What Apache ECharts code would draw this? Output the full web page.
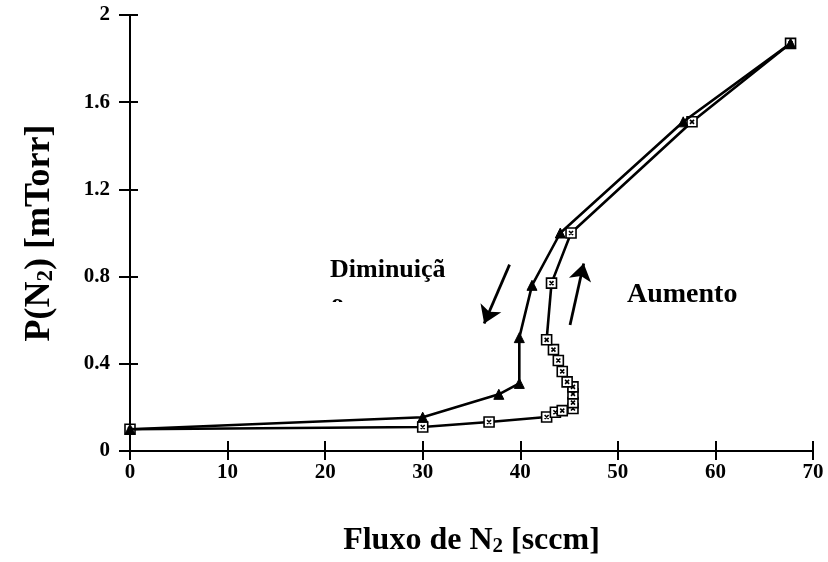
<!DOCTYPE html>
<html>
<head>
<meta charset="utf-8">
<script src="https://cdn.jsdelivr.net/npm/echarts@6/dist/echarts.min.js"></script>
<style>html,body{margin:0;padding:0;background:#fff}#c{width:828px;height:562px}</style>
</head>
<body>
<div id="c"></div>
<script>
// Diminuição (decreasing flow) - triangles
const dimX = [0, 30, 37.8, 39.9, 39.9, 41.2, 44.1, 56.7, 67.7];
const dimY = [0.10, 0.155, 0.26, 0.31, 0.52, 0.76, 1.00, 1.51, 1.87];
// Aumento (increasing flow) - squares
const aumX = [0, 30, 36.8, 42.7, 43.6, 44.3, 45.4, 45.4, 45.4, 45.4, 44.8, 44.3, 43.9, 43.4, 42.7, 43.2, 45.2, 57.6, 67.7];
const aumY = [0.10, 0.11, 0.133, 0.156, 0.178, 0.185, 0.195, 0.222, 0.262, 0.294, 0.317, 0.365, 0.415, 0.465, 0.51, 0.77, 1.00, 1.51, 1.87];
const xTicks = [0, 10, 20, 30, 40, 50, 60, 70];
const yTicks = [0, 0.4, 0.8, 1.2, 1.6, 2];
// arrow annotations (data coordinates)
const arrowDown = [[38.9, 0.855], [36.3, 0.585]];
const arrowUp = [[45.1, 0.578], [46.5, 0.86]];

const font = 'Liberation Serif';
const chart = echarts.init(document.getElementById('c'), null, {renderer: 'canvas'});
const pair = (xs, ys) => xs.map((x, i) => [x, ys[i]]);
const boxPath = 'path://M0,0L10,0L10,10L0,10Z M3,3L7,7 M7,3L3,7';

const gridPos = {left: 130, right: 15, top: 15, bottom: 111, containLabel: false};
const xBase = {type: 'value', min: 0, max: 70, interval: 10, splitLine: {show: false}};
const yBase = {type: 'value', min: 0, max: 2, interval: 0.4, splitLine: {show: false}};
const tickStyle = {color: '#000', width: 2};

chart.setOption({
  animation: false,
  backgroundColor: '#fff',
  grid: [Object.assign({}, gridPos), Object.assign({}, gridPos)],
  xAxis: [
    Object.assign({}, xBase, {
      gridIndex: 0, position: 'bottom',
      axisLine: {lineStyle: {color: '#000', width: 2}},
      axisTick: {show: true, inside: false, length: 9, lineStyle: tickStyle},
      axisLabel: {color: '#000', fontFamily: font, fontWeight: 'bold', fontSize: 21, margin: 11,
        formatter: v => xTicks.includes(v) ? String(v) : ''},
      name: '{a|Fluxo de N}{s|2}{a| [sccm]}',
      nameLocation: 'middle', nameGap: 73,
      nameTextStyle: {rich: {
        a: {fontFamily: font, fontWeight: 'bold', fontSize: 32, color: '#000'},
        s: {fontFamily: font, fontWeight: 'bold', fontSize: 21, color: '#000', verticalAlign: 'bottom', padding: [12, 0, 0, 0]}
      }}
    }),
    Object.assign({}, xBase, {
      gridIndex: 1, position: 'bottom',
      axisLine: {show: false},
      axisTick: {show: true, inside: true, length: 10, lineStyle: tickStyle},
      axisLabel: {show: false}
    })
  ],
  yAxis: [
    Object.assign({}, yBase, {
      gridIndex: 0, position: 'left',
      axisLine: {lineStyle: {color: '#000', width: 2}},
      axisTick: {show: true, inside: false, length: 11, lineStyle: tickStyle},
      axisLabel: {color: '#000', fontFamily: font, fontWeight: 'bold', fontSize: 21, margin: 20,
        formatter: v => { const t = yTicks.find(k => Math.abs(k - v) < 1e-6); return t === undefined ? '' : String(t); }},
      name: '{a|P(N}{s|2}{a|) [mTorr]}',
      nameLocation: 'middle', nameGap: 72, nameRotate: 90,
      nameTextStyle: {rich: {
        a: {fontFamily: font, fontWeight: 'bold', fontSize: 36, color: '#000'},
        s: {fontFamily: font, fontWeight: 'bold', fontSize: 23, color: '#000', verticalAlign: 'bottom', padding: [13, 0, 0, 0]}
      }}
    }),
    Object.assign({}, yBase, {
      gridIndex: 1, position: 'left',
      axisLine: {show: false},
      axisTick: {show: true, inside: true, length: 8, lineStyle: tickStyle},
      axisLabel: {show: false}
    })
  ],
  series: [
    {
      type: 'line', xAxisIndex: 0, yAxisIndex: 0,
      data: pair(aumX, aumY),
      symbol: boxPath, symbolSize: 10, showAllSymbol: true,
      lineStyle: {color: '#000', width: 2.6},
      itemStyle: {color: '#fff', borderColor: '#000', borderWidth: 1.6},
      z: 2,
      markLine: {
        silent: true, symbol: ['none', 'arrow'], symbolSize: 17,
        lineStyle: {color: '#000', width: 2.8, type: 'solid'},
        label: {show: false},
        emphasis: {disabled: true},
        data: [
          [{coord: arrowDown[0]}, {coord: arrowDown[1]}],
          [{coord: arrowUp[0]}, {coord: arrowUp[1]}]
        ]
      }
    },
    {
      type: 'line', xAxisIndex: 0, yAxisIndex: 0,
      data: pair(dimX, dimY),
      symbol: 'triangle', symbolSize: 10, showAllSymbol: true,
      lineStyle: {color: '#000', width: 2.6},
      itemStyle: {color: '#000', borderColor: '#000', borderWidth: 1},
      z: 3
    }
  ],
  graphic: [
    {type: 'text', left: 330, top: 257, z: 10, style: {text: 'Diminuiçã', fontFamily: font, fontWeight: 'bold', fontSize: 26, fill: '#000'}},
    {type: 'text', left: 331, top: 291, z: 10, style: {text: 'o', fontFamily: font, fontWeight: 'bold', fontSize: 26, fill: '#000'}},
    {type: 'rect', left: 326, top: 302, z: 11, shape: {width: 24, height: 24}, style: {fill: '#fff'}},
    {type: 'text', left: 627, top: 281, z: 10, style: {text: 'Aumento', fontFamily: font, fontWeight: 'bold', fontSize: 28, fill: '#000'}}
  ]
});
</script>
</body>
</html>
